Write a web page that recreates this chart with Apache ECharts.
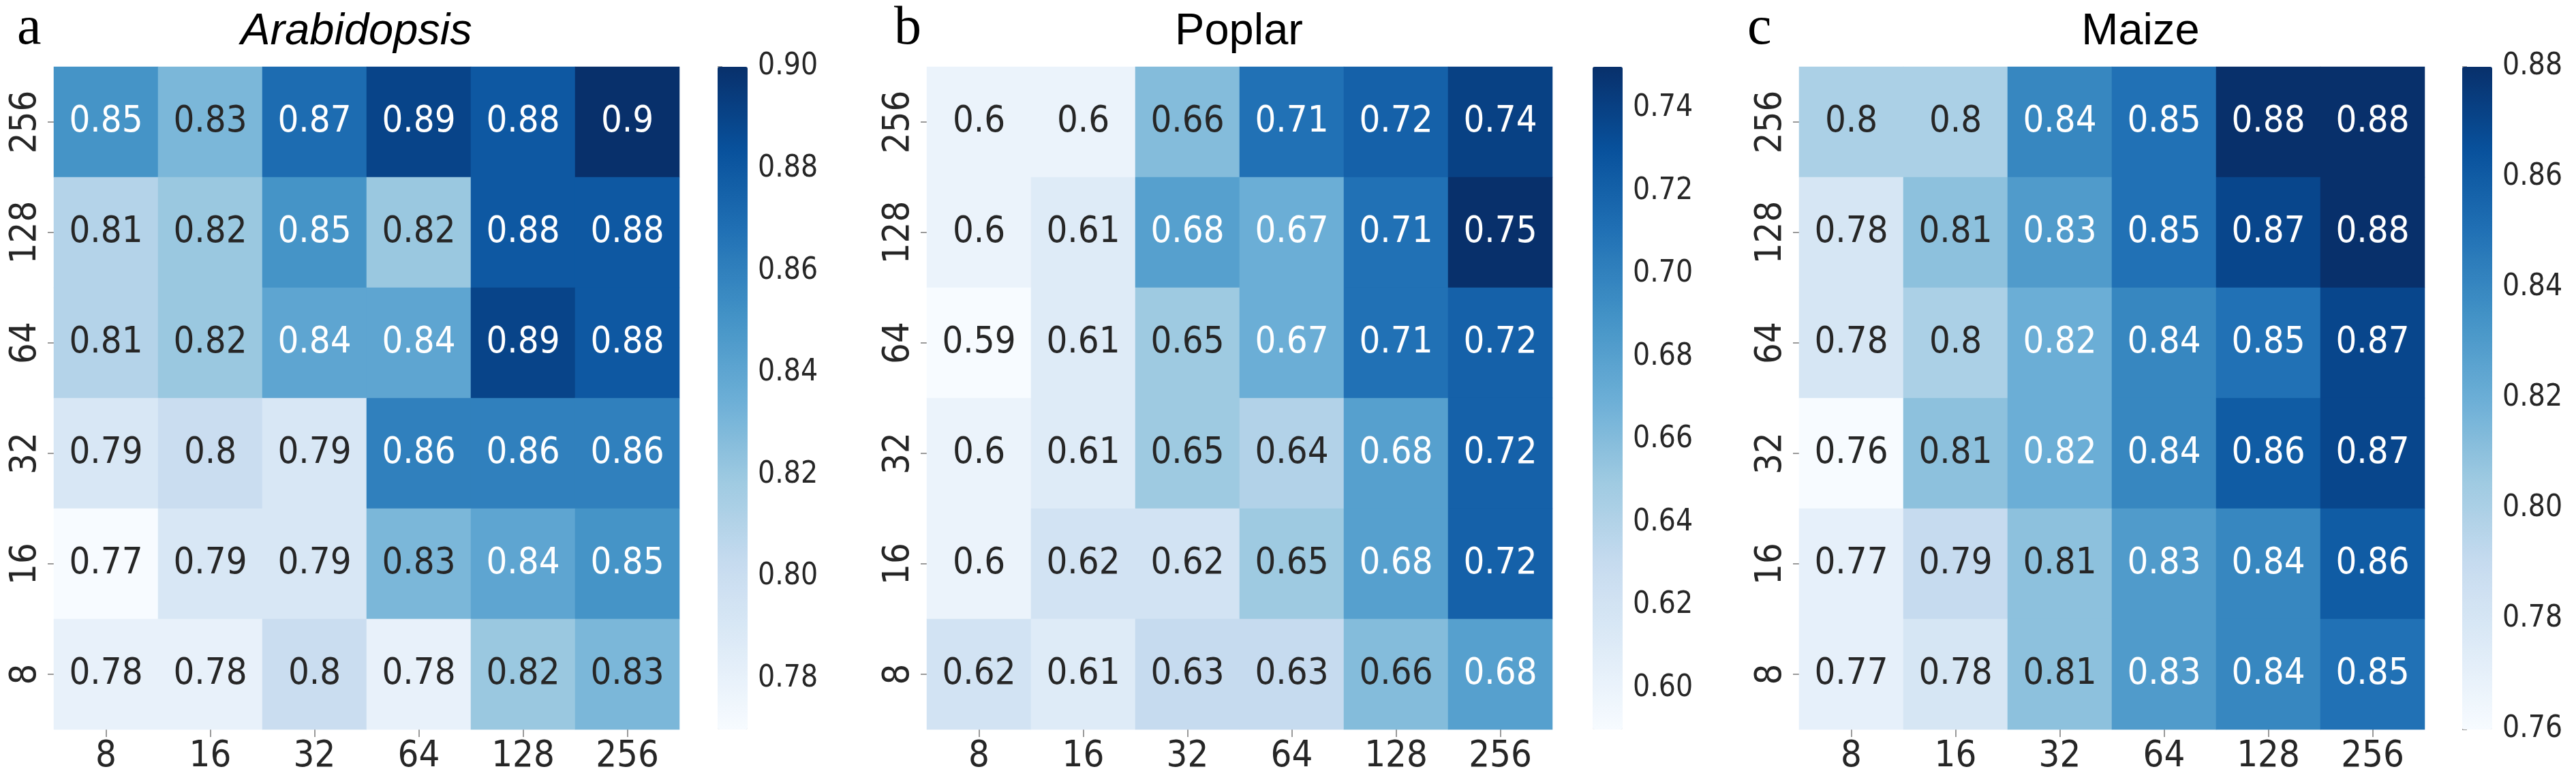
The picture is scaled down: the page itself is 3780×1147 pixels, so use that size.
<!DOCTYPE html>
<html>
<head>
<meta charset="utf-8">
<script src="https://cdn.jsdelivr.net/npm/echarts@6/dist/echarts.min.js"></script>
<style>
html,body{margin:0;padding:0;background:#ffffff;}
#chart{width:3780px;height:1147px;}
</style>
</head>
<body>
<div id="chart"></div>
<script>
// ---------------- data ----------------
const xCategories = ['8', '16', '32', '64', '128', '256'];
const yCategories = ['8', '16', '32', '64', '128', '256']; // bottom -> top
const panelLetters = ['a', 'b', 'c'];
const panelTitles = ['Arabidopsis', 'Poplar', 'Maize'];

// rows listed from top (256) to bottom (8); columns 8 .. 256
const arabidopsisValues = [
  [0.85, 0.83, 0.87, 0.89, 0.88, 0.90],
  [0.81, 0.82, 0.85, 0.82, 0.88, 0.88],
  [0.81, 0.82, 0.84, 0.84, 0.89, 0.88],
  [0.79, 0.80, 0.79, 0.86, 0.86, 0.86],
  [0.77, 0.79, 0.79, 0.83, 0.84, 0.85],
  [0.78, 0.78, 0.80, 0.78, 0.82, 0.83]
];
const poplarValues = [
  [0.60, 0.60, 0.66, 0.71, 0.72, 0.74],
  [0.60, 0.61, 0.68, 0.67, 0.71, 0.75],
  [0.59, 0.61, 0.65, 0.67, 0.71, 0.72],
  [0.60, 0.61, 0.65, 0.64, 0.68, 0.72],
  [0.60, 0.62, 0.62, 0.65, 0.68, 0.72],
  [0.62, 0.61, 0.63, 0.63, 0.66, 0.68]
];
const maizeValues = [
  [0.80, 0.80, 0.84, 0.85, 0.88, 0.88],
  [0.78, 0.81, 0.83, 0.85, 0.87, 0.88],
  [0.78, 0.80, 0.82, 0.84, 0.85, 0.87],
  [0.76, 0.81, 0.82, 0.84, 0.86, 0.87],
  [0.77, 0.79, 0.81, 0.83, 0.84, 0.86],
  [0.77, 0.78, 0.81, 0.83, 0.84, 0.85]
];
const colorMins = [0.77, 0.59, 0.76];
const colorMaxs = [0.90, 0.75, 0.88];
const colorbarTicksA = [0.78, 0.80, 0.82, 0.84, 0.86, 0.88, 0.90];
const colorbarTicksB = [0.60, 0.62, 0.64, 0.66, 0.68, 0.70, 0.72, 0.74];
const colorbarTicksC = [0.76, 0.78, 0.80, 0.82, 0.84, 0.86, 0.88];

// ---------------- style / layout ----------------
const panelValues = [arabidopsisValues, poplarValues, maizeValues];
const colorbarTicks = [colorbarTicksA, colorbarTicksB, colorbarTicksC];
const BLUES = ['#f7fbff', '#deebf7', '#c6dbef', '#9ecae1', '#6baed6', '#4292c6', '#2171b5', '#08519c', '#08306b'];
const NUM_FONT = "'DejaVu Sans Condensed', 'DejaVu Sans', sans-serif";
const gridLeft = [79, 1360, 2640];
const gridTop = 98;
const gridW = 918;
const gridH = 972;
const cbLeft = [1053, 2337, 3613];
const cbW = 44;
const titleX = [523, 1818, 3141];
const letterX = [25, 1312, 2564];

function hexToRgb(h) {
  return [parseInt(h.slice(1, 3), 16), parseInt(h.slice(3, 5), 16), parseInt(h.slice(5, 7), 16)];
}
function bluesAt(t) {
  t = Math.max(0, Math.min(1, t));
  const p = t * (BLUES.length - 1);
  const i = Math.min(Math.floor(p), BLUES.length - 2);
  const f = p - i;
  const a = hexToRgb(BLUES[i]), b = hexToRgb(BLUES[i + 1]);
  return a.map((v, k) => v + (b[k] - v) * f);
}
function luminance(rgb) {
  const c = rgb.map(v => {
    v = v / 255;
    return v <= 0.03928 ? v / 12.92 : Math.pow((v + 0.055) / 1.055, 2.4);
  });
  return 0.2126 * c[0] + 0.7152 * c[1] + 0.0722 * c[2];
}
function fmt2g(v) {
  return String(Number(v.toPrecision(2)));
}

const grids = [], xAxes = [], yAxes = [], series = [], visualMaps = [], graphics = [];

for (let p = 0; p < 3; p++) {
  const vals = panelValues[p];
  const vmin = colorMins[p], vmax = colorMaxs[p];
  // heatmap grid
  grids.push({ left: gridLeft[p], top: gridTop, width: gridW, height: gridH, containLabel: false });
  xAxes.push({
    type: 'category', gridIndex: p, data: xCategories, position: 'bottom',
    axisLine: { show: false },
    axisTick: { show: true, alignWithLabel: true, length: 11, lineStyle: { color: '#9a9a9a', width: 2 } },
    axisLabel: { fontFamily: NUM_FONT, fontSize: 54, color: '#262626', margin: 13 },
    splitLine: { show: false }
  });
  yAxes.push({
    type: 'category', gridIndex: p, data: yCategories, position: 'left',
    axisLine: { show: false },
    axisTick: { show: true, alignWithLabel: true, length: 9, lineStyle: { color: '#9a9a9a', width: 2 } },
    axisLabel: { fontFamily: NUM_FONT, fontSize: 54, color: '#262626', rotate: 90, margin: 14 },
    splitLine: { show: false }
  });
  const data = [];
  for (let r = 0; r < vals.length; r++) {
    for (let c = 0; c < vals[r].length; c++) {
      const v = vals[r][c];
      const lum = luminance(bluesAt((v - vmin) / (vmax - vmin)));
      data.push({
        value: [c, vals.length - 1 - r, v],
        label: { color: lum > 0.408 ? '#262626' : '#ffffff' }
      });
    }
  }
  series.push({
    type: 'heatmap', name: panelTitles[p], xAxisIndex: p, yAxisIndex: p, data: data,
    itemStyle: { borderWidth: 0 },
    label: {
      show: true, fontFamily: NUM_FONT, fontSize: 54,
      formatter: prm => fmt2g(prm.value[2])
    },
    emphasis: { disabled: true },
    silent: true
  });
  visualMaps.push({
    type: 'continuous', seriesIndex: p, dimension: 2, min: vmin, max: vmax,
    inRange: { color: BLUES },
    orient: 'vertical', left: cbLeft[p], top: gridTop,
    itemWidth: cbW, itemHeight: gridH, padding: 0,
    calculable: false, hoverLink: false, text: null, showLabel: false
  });
}
// colorbar axes
for (let p = 0; p < 3; p++) {
  const gi = 3 + p;
  grids.push({ left: cbLeft[p], top: gridTop, width: cbW, height: gridH, containLabel: false });
  xAxes.push({ type: 'value', gridIndex: gi, show: false, min: 0, max: 1 });
  yAxes.push({
    type: 'value', gridIndex: gi, position: 'right', min: colorMins[p], max: colorMaxs[p],
    axisLine: { show: false },
    splitLine: { show: false },
    axisTick: { show: true, length: 7, customValues: colorbarTicks[p], lineStyle: { color: '#9a9a9a', width: 2 } },
    axisLabel: {
      fontFamily: NUM_FONT, fontSize: 44, color: '#262626', margin: 15,
      customValues: colorbarTicks[p], formatter: v => v.toFixed(2)
    }
  });
}
// titles and panel letters
for (let p = 0; p < 3; p++) {
  graphics.push({
    type: 'text', x: titleX[p], y: 47, silent: true,
    style: {
      text: panelTitles[p],
      font: (p === 0 ? 'italic ' : '') + '65px "Liberation Sans", Arial, sans-serif',
      align: 'center', verticalAlign: 'middle', fill: '#000000'
    }
  });
  graphics.push({
    type: 'text', x: letterX[p], y: 43, silent: true,
    style: {
      text: panelLetters[p],
      font: '80px "Liberation Serif", "Times New Roman", serif',
      align: 'left', verticalAlign: 'middle', fill: '#000000'
    }
  });
}

const chart = echarts.init(document.getElementById('chart'), null, { renderer: 'canvas', width: 3780, height: 1147 });
chart.setOption({
  backgroundColor: '#ffffff',
  animation: false,
  grid: grids,
  xAxis: xAxes,
  yAxis: yAxes,
  visualMap: visualMaps,
  series: series,
  graphic: graphics
});
</script>
</body>
</html>
